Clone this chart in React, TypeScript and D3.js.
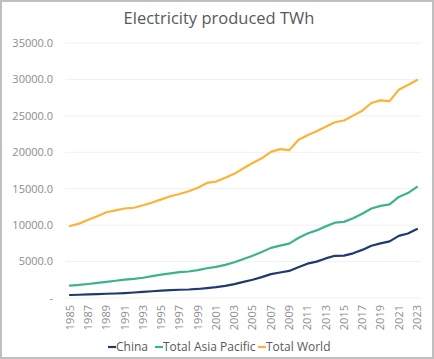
import React from "react";
import * as d3 from "d3";

const years: number[] = d3.range(1985, 2024);
const china: number[] = [411, 449, 497, 545, 585, 621, 678, 754, 840, 928, 1008, 1081, 1134, 1167, 1239, 1356, 1481, 1654, 1911, 2204, 2500, 2866, 3282, 3496, 3715, 4208, 4713, 4988, 5432, 5795, 5815, 6133, 6604, 7166, 7503, 7779, 8534, 8849, 9456];
const asiaPacific: number[] = [1700, 1790, 1920, 2070, 2220, 2370, 2510, 2630, 2780, 3000, 3200, 3380, 3540, 3640, 3820, 4080, 4280, 4550, 4900, 5360, 5800, 6300, 6880, 7180, 7470, 8230, 8850, 9280, 9830, 10340, 10450, 10950, 11560, 12290, 12640, 12840, 13870, 14400, 15260];
const world: number[] = [9887, 10207, 10727, 11233, 11766, 12030, 12286, 12391, 12724, 13097, 13540, 13972, 14281, 14657, 15133, 15795, 15985, 16519, 17045, 17810, 18521, 19173, 20060, 20428, 20289, 21686, 22347, 22877, 23514, 24128, 24363, 25031, 25710, 26762, 27120, 27018, 28593, 29226, 29925];
const yTicks: number[] = [0, 5000, 10000, 15000, 20000, 25000, 30000, 35000];
const seriesNames: string[] = ["China", "Total Asia Pacific", "Total World"];
const seriesColors: string[] = ["#1f3a6e", "#3db290", "#fdb338"];
const title = "Electricity produced TWh";

const W = 434;
const H = 359;
const FONT = "'Open Sans', 'Noto Sans', sans-serif";

export default function App() {
  const x = d3.scaleBand<number>().domain(years).range([65.4, 421.6]);
  const y = d3.scaleLinear().domain([0, 35000]).range([298, 43]);
  const cx = (yr: number) => (x(yr) as number) + x.bandwidth() / 2;
  const line = d3
    .line<number>()
    .x((_, i) => cx(years[i]))
    .y((d) => y(d));
  const data = [china, asiaPacific, world];
  const fmt = (v: number) => (v === 0 ? "-" : v.toFixed(1));
  const legendX = [108, 155, 258];

  return (
    <svg
      width={W}
      height={H}
      style={{ position: "absolute", left: 0, top: 0, background: "#fff" }}
      fontFamily={FONT}
    >
      <rect x={1} y={1} width={W - 2} height={H - 2} fill="#fff" stroke="#bfbfbf" strokeWidth={2} />
      <text x={219} y={24} textAnchor="middle" fontSize={16.5} fill="#595959">
        {title}
      </text>
      {yTicks.map((t) => (
        <g key={t}>
          <line x1={65.4} x2={421.6} y1={y(t)} y2={y(t)} stroke="#f0f0f0" strokeWidth={1} />
          <text x={53} y={y(t)} dy="0.35em" textAnchor="end" fontSize={11} fill="#8c8c8c">
            {fmt(t)}
          </text>
        </g>
      ))}
      {years
        .filter((yr) => (yr - 1985) % 2 === 0)
        .map((yr) => (
          <text
            key={yr}
            transform={`translate(${cx(yr)},305) rotate(-90)`}
            textAnchor="end"
            dy="0.35em"
            fontSize={11}
            fill="#8c8c8c"
          >
            {yr}
          </text>
        ))}
      {data.map((d, i) => (
        <path
          key={i}
          d={line(d) || ""}
          fill="none"
          stroke={seriesColors[i]}
          strokeWidth={2.2}
          strokeLinejoin="round"
          strokeLinecap="round"
        />
      ))}
      {seriesNames.map((n, i) => (
        <g key={n}>
          <line x1={legendX[i]} x2={legendX[i] + 8} y1={347} y2={347} stroke={seriesColors[i]} strokeWidth={2.2} />
          <text x={legendX[i] + 8} y={347} dy="0.35em" fontSize={12} fill="#595959">
            {n}
          </text>
        </g>
      ))}
    </svg>
  );
}
